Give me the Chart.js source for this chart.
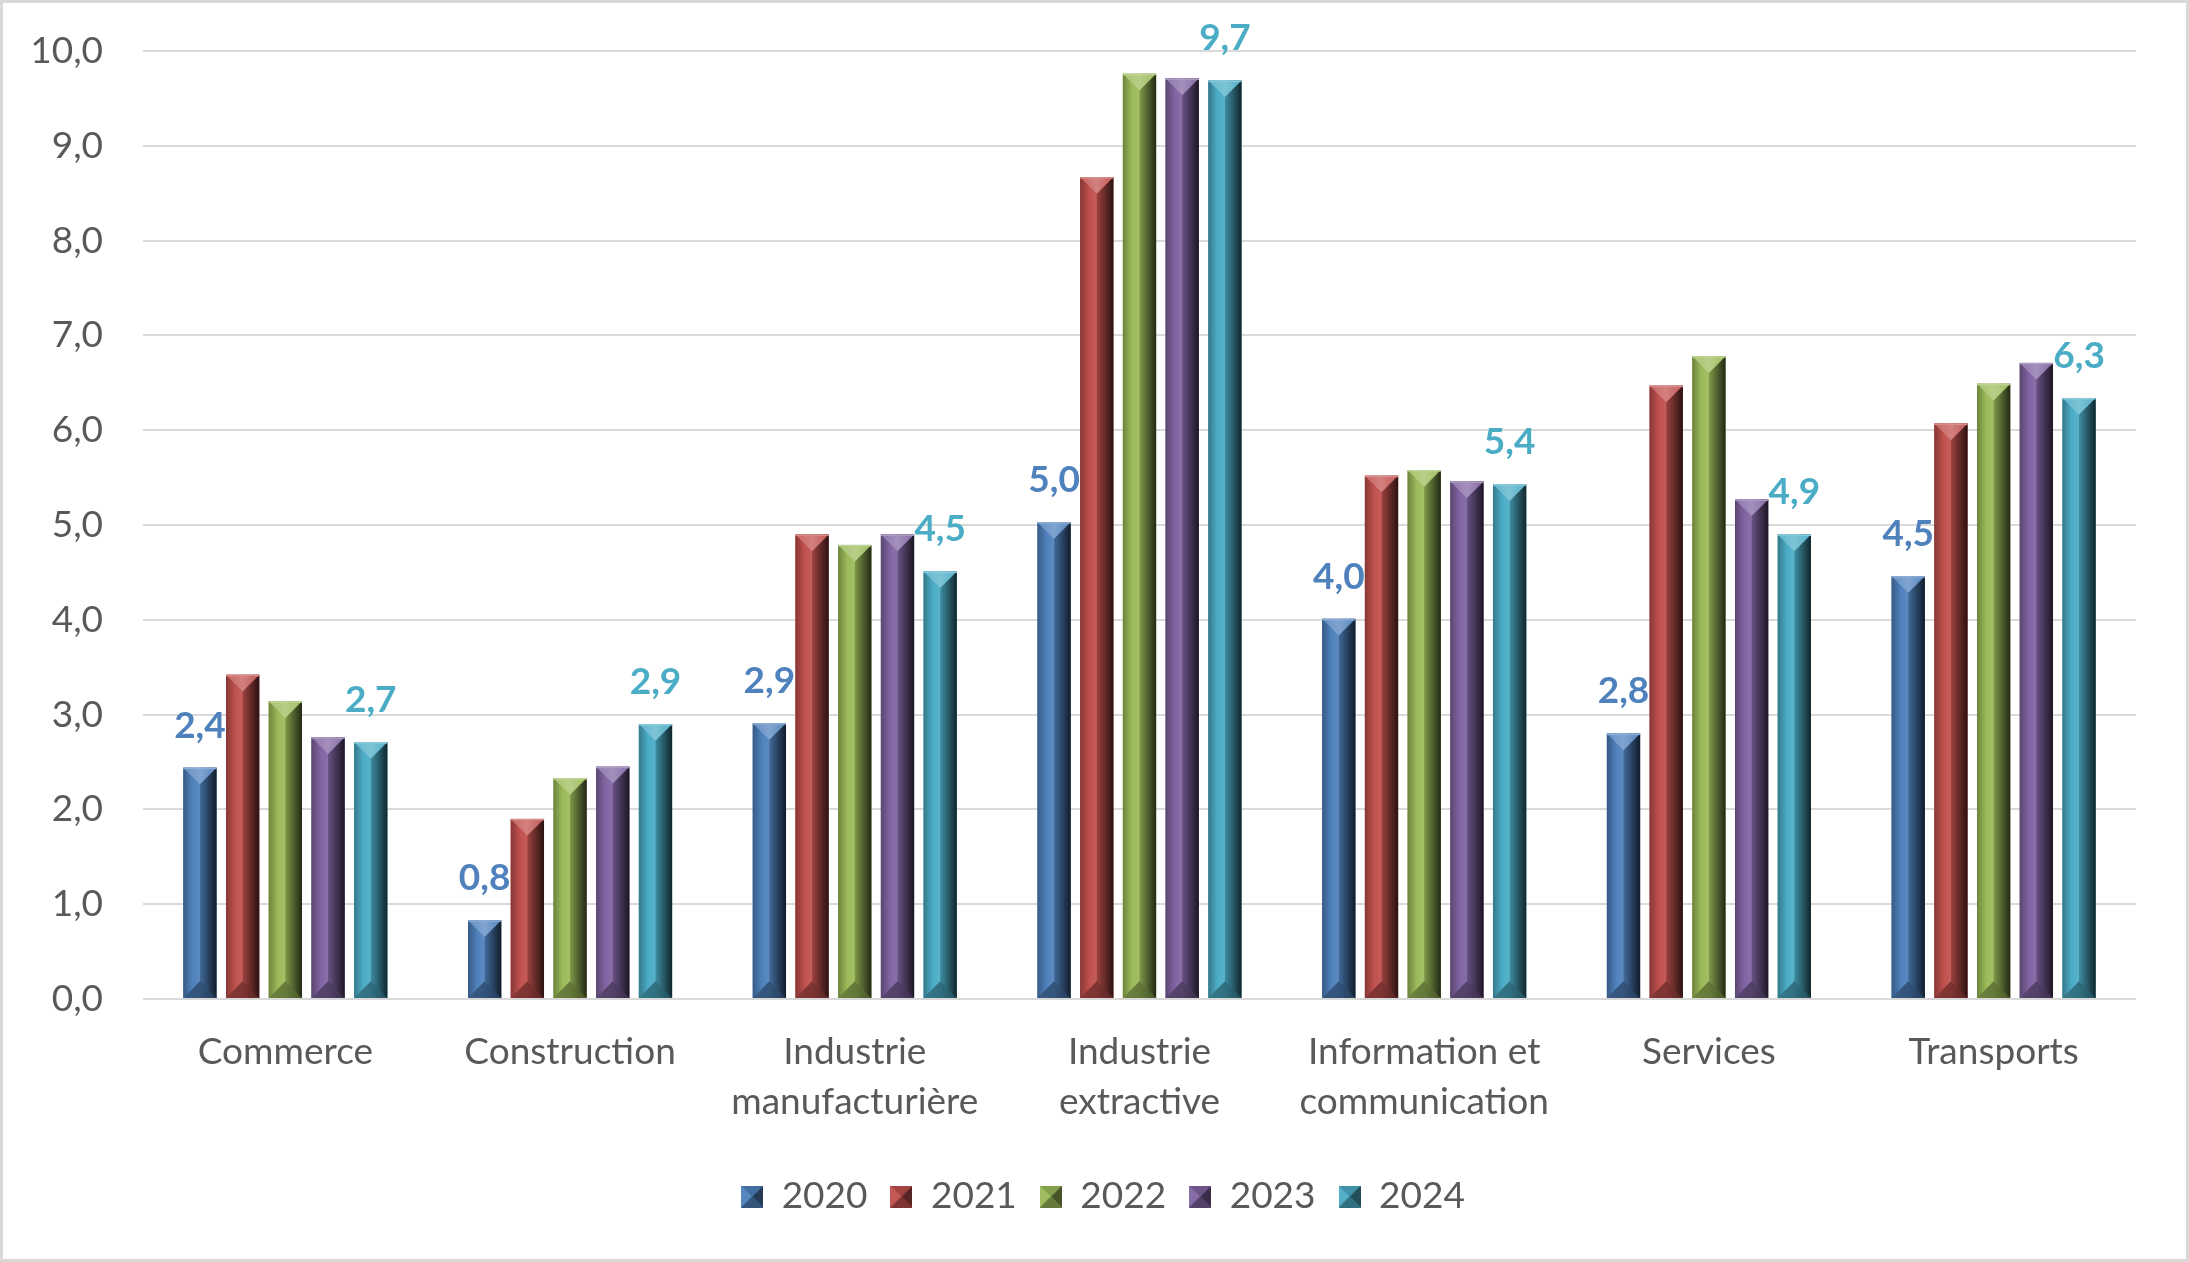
<!DOCTYPE html>
<html><head><meta charset="utf-8">
<script src="https://cdn.jsdelivr.net/npm/chart.js@4.4.1/dist/chart.umd.min.js"></script>
<style>html,body{margin:0;padding:0;background:#fff;overflow:hidden}canvas{display:block}</style>
</head><body>
<canvas id="c" width="2189" height="1262"></canvas>
<script>
// ---- data ----
const categories = [['Commerce'], ['Construction'], ['Industrie', 'manufacturière'], ['Industrie', 'extractive'], ['Information et', 'communication'], ['Services'], ['Transports']];
const seriesNames = ['2020', '2021', '2022', '2023', '2024'];
const values2020 = [2.44, 0.83, 2.91, 5.03, 4.01, 2.80, 4.46];
const values2021 = [3.42, 1.90, 4.90, 8.67, 5.52, 6.47, 6.07];
const values2022 = [3.14, 2.33, 4.79, 9.76, 5.58, 6.78, 6.49];
const values2023 = [2.76, 2.45, 4.90, 9.71, 5.46, 5.27, 6.71];
const values2024 = [2.71, 2.90, 4.51, 9.69, 5.43, 4.90, 6.34];
const seriesValues = [values2020, values2021, values2022, values2023, values2024];
const seriesColors = ['#4F81BD', '#C0504D', '#9BBB59', '#8064A2', '#4BACC6'];
const labelledSeries = [0, 4];
const yMin = 0, yMax = 10, yStep = 1;

const FONT = 'Lato';
const TEXT = '#595959';
const fmt = v => v.toFixed(1).replace('.', ',');

function rgb(h){const n=parseInt(h.slice(1),16);return [n>>16&255,n>>8&255,n&255];}
function mix(h,t,a){const c=rgb(h);return 'rgb('+c.map((v,i)=>Math.round(v+(t[i]-v)*a)).join(',')+')';}
const light=(h,a)=>mix(h,[255,255,255],a), dark=(h,a)=>mix(h,[0,0,0],a);

function drawBevel(ctx,l,t,w,b,col){
  const r=l+w, cx=l+w/2, h=b-t; if(h<=0) return;
  const d=Math.min(w*0.5,h/2);
  let g=ctx.createLinearGradient(l,0,cx,0);
  g.addColorStop(0,dark(col,0.3)); g.addColorStop(0.55,col); g.addColorStop(1,light(col,0.08));
  ctx.fillStyle=g; ctx.fillRect(l,t,w/2+0.5,h);
  g=ctx.createLinearGradient(cx,0,r,0);
  g.addColorStop(0,dark(col,0.18)); g.addColorStop(1,dark(col,0.78));
  ctx.fillStyle=g; ctx.fillRect(cx,t,w/2,h);
  ctx.beginPath(); ctx.moveTo(l,t); ctx.lineTo(r,t); ctx.lineTo(cx,t+d); ctx.closePath();
  g=ctx.createLinearGradient(l,0,r,0);
  g.addColorStop(0,light(col,0.12)); g.addColorStop(0.5,light(col,0.28)); g.addColorStop(1,light(col,0.05));
  ctx.fillStyle=g; ctx.fill();
  ctx.beginPath(); ctx.moveTo(l,b); ctx.lineTo(r,b); ctx.lineTo(cx,b-d); ctx.closePath();
  g=ctx.createLinearGradient(l,0,r,0);
  g.addColorStop(0,dark(col,0.3)); g.addColorStop(0.5,dark(col,0.35)); g.addColorStop(1,dark(col,0.55));
  ctx.fillStyle=g; ctx.fill();
  ctx.fillStyle=light(col,0.35); ctx.fillRect(l,t,w,1.5);
}

function legendImage(col){
  const c=document.createElement('canvas'); const s=22; c.width=s; c.height=s;
  const x=c.getContext('2d');
  x.fillStyle=col; x.fillRect(0,0,s,s);
  const tri=(pts,f)=>{x.beginPath();x.moveTo(pts[0],pts[1]);x.lineTo(pts[2],pts[3]);x.lineTo(pts[4],pts[5]);x.closePath();x.fillStyle=f;x.fill();};
  tri([0,0,s/2,s/2,0,s],light(col,0.05));
  tri([s,0,s/2,s/2,s,s],dark(col,0.55));
  tri([0,0,s,0,s/2,s/2],dark(col,0.15));
  tri([0,s,s,s,s/2,s/2],dark(col,0.35));
  return c;
}
const legendImages = seriesColors.map(legendImage);

const bevelPlugin = {
  id:'bevel',
  beforeDraw(chart){const c=chart.ctx;c.save();c.fillStyle='#fff';c.fillRect(0,0,chart.width,chart.height);c.restore();},
  afterDatasetsDraw(chart){
    const ctx=chart.ctx; ctx.save();
    chart.data.datasets.forEach((ds,i)=>{
      const meta=chart.getDatasetMeta(i);
      meta.data.forEach(el=>{
        const p=el.getProps(['x','y','base','width'],true);
        drawBevel(ctx,p.x-p.width/2,Math.min(p.y,p.base),p.width,Math.max(p.y,p.base),seriesColors[i]);
      });
    });
    ctx.font='bold 37px '+FONT; ctx.textAlign='center'; ctx.textBaseline='middle';
    labelledSeries.forEach(i=>{
      const meta=chart.getDatasetMeta(i);
      meta.data.forEach((el,j)=>{
        const p=el.getProps(['x','y'],true);
        ctx.fillStyle=seriesColors[i];
        ctx.fillText(fmt(chart.data.datasets[i].data[j]),p.x,p.y-42);
      });
    });
    ctx.restore();
  },
  afterDraw(chart){const c=chart.ctx;c.save();c.strokeStyle='#d9d9d9';c.lineWidth=3;c.strokeRect(1.5,1.5,chart.width-3,chart.height-3);c.restore();}
};

function build(){
  new Chart(document.getElementById('c'),{
    type:'bar',
    data:{labels:categories,datasets:seriesNames.map((n,i)=>({label:n,data:seriesValues[i],backgroundColor:seriesColors[i],borderWidth:0,categoryPercentage:0.75,barPercentage:0.78}))},
    options:{
      responsive:false,animation:false,devicePixelRatio:1,
      layout:{padding:{top:51,right:0,left:17,bottom:37}},
      scales:{
        x:{grid:{display:false,drawTicks:false},border:{display:false},
           ticks:{font:{family:FONT,size:37,lineHeight:1.35},color:TEXT,padding:28,maxRotation:0,autoSkip:false},
           afterFit:s=>{s.height=156;}},
        y:{min:yMin,max:yMax,
           ticks:{stepSize:yStep,callback:v=>fmt(v),font:{family:FONT,size:37,lineHeight:0.5},color:TEXT,padding:40},
           grid:{color:'#d9d9d9',lineWidth:2,drawTicks:false},border:{display:false},
           afterFit:s=>{s.width=126;}},
        yRight:{position:'right',display:true,min:yMin,max:yMax,
           ticks:{display:false,padding:0},grid:{display:false,drawTicks:false},border:{display:false},
           afterFit:s=>{s.width=53;}}
      },
      plugins:{
        tooltip:{enabled:false},
        legend:{position:'bottom',
          labels:{usePointStyle:true,boxWidth:22,boxHeight:22,padding:23,color:TEXT,font:{family:FONT,size:37},
            generateLabels:ch=>ch.data.datasets.map((d,i)=>({text:d.label,pointStyle:legendImages[i],fillStyle:seriesColors[i],strokeStyle:seriesColors[i],lineWidth:0,hidden:false,datasetIndex:i,fontColor:TEXT}))}}
      }
    },
    plugins:[bevelPlugin]
  });
}
Promise.all([document.fonts.load('37px Lato'),document.fonts.load('bold 37px Lato')]).then(build,build);
</script>
</body></html>
